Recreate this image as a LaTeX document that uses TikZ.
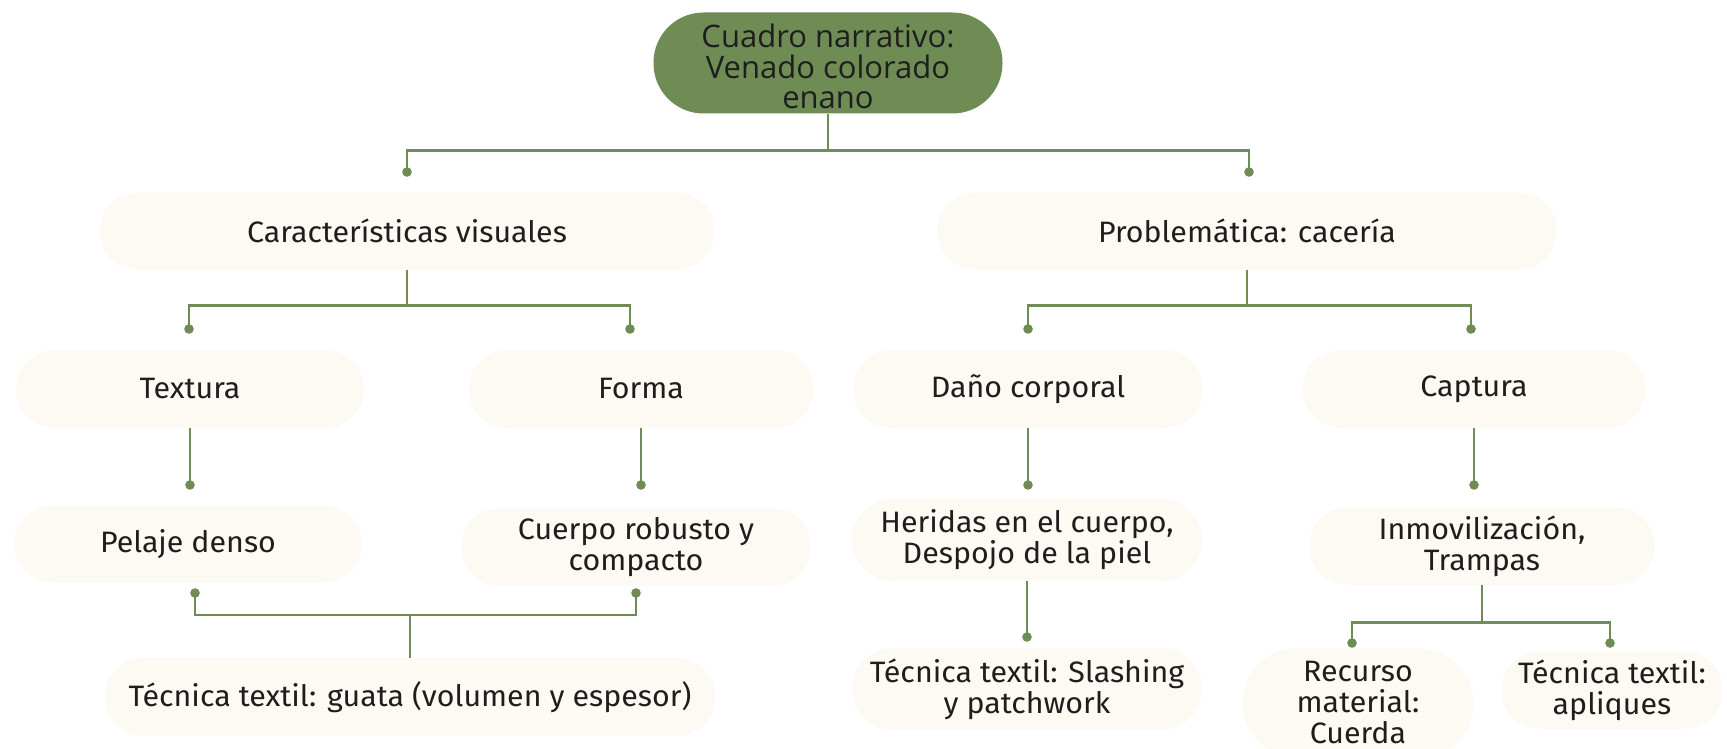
\documentclass[tikz,border=0pt]{standalone}
\usepackage{fontspec}
\setmainfont{Open Sans}
\newfontfamily\lowfont[FakeStretch=1.03]{Fira Sans}
\definecolor{leaf}{HTML}{6F8C55}
\definecolor{cream}{HTML}{FDFAF4}
\definecolor{ink}{HTML}{1E1E1E}
\begin{document}
\begin{tikzpicture}[x=1pt,y=-1pt,
  pill/.style={rectangle, rounded corners=38pt, fill=cream, minimum height=77pt,
    align=center, text=ink, inner sep=0pt, font=\lowfont\fontsize{29.5}{31}\selectfont},
  headpill/.style={rectangle, rounded corners=50pt, fill=leaf, minimum width=349pt,
    minimum height=101pt, align=center, text=ink, inner sep=0pt,
    font=\fontsize{31}{30.5}\selectfont},
  conn/.style={draw=leaf, line width=2.8pt},
  dotmark/.style={fill=leaf}
]
\fill[white] (0,0) rectangle (1727,749);
\useasboundingbox (0,0) rectangle (1727,749);

% nodes
\node[headpill] (top) at (828,63) {\rule{0pt}{30.5pt}Cuadro narrativo:\\Venado colorado\\enano};
\node[pill, minimum width=615pt] (cv) at (407,231) {Características visuales};
\node[pill, minimum width=619pt] (pc) at (1247,231) {Problemática: cacería};
\node[pill, minimum width=348pt] (tex) at (190,389) {Textura};
\node[pill, minimum width=345pt] (for) at (641,389) {Forma};
\node[pill, minimum width=350pt] (dan) at (1028,389) {Daño corporal};
\node[pill, minimum width=343pt] (cap) at (1474,389) {Captura};
\node[pill, minimum width=348pt] (pel) at (188,544) {Pelaje denso};
\node[pill, minimum width=350pt] (cue) at (636,547) {Cuerpo robusto y\\compacto};
\node[pill, minimum width=350pt, minimum height=82pt, rounded corners=41pt] (her) at (1027,540) {Heridas en el cuerpo,\\Despojo de la piel};
\node[pill, minimum width=345pt] (inm) at (1482,546) {Inmovilización,\\Trampas};
\node[pill, minimum width=611pt, minimum height=78pt, rounded corners=39pt] (gua) at (410,697) {Técnica textil: guata (volumen y espesor)};
\node[pill, minimum width=350pt, minimum height=82pt, rounded corners=41pt] (sla) at (1027,689) {Técnica textil: Slashing\\y patchwork};
\node[pill, minimum width=231pt, minimum height=110pt, rounded corners=55pt] (rec) at (1358,703) {Recurso\\material:\\Cuerda};
\node[pill, minimum width=221pt] (apl) at (1612,690) {Técnica textil:\\apliques};

% dot end points
\coordinate (d-cv) at (407,172);
\coordinate (d-pc) at (1249,172);
\coordinate (d-tex) at (189,329);
\coordinate (d-for) at (630,329);
\coordinate (d-dan) at (1028,329);
\coordinate (d-cap) at (1471,329);
\coordinate (d-pel) at (190,485);
\coordinate (d-cue) at (641,485);
\coordinate (d-her) at (1028,485);
\coordinate (d-inm) at (1474,485);
\coordinate (e-pel) at (195,593);
\coordinate (e-cue) at (636,593);
\coordinate (d-sla) at (1027,637);
\coordinate (d-rec) at (1352,643);
\coordinate (d-apl) at (1610,643);

% connectors
\draw[conn] (top.south) -- ++(0,37) coordinate (j0) -| (d-cv);
\draw[conn] (j0) -| (d-pc);
\draw[conn] (cv.south) -- ++(0,36) coordinate (j1) -| (d-tex);
\draw[conn] (j1) -| (d-for);
\draw[conn] (pc.south) -- ++(0,36) coordinate (j2) -| (d-dan);
\draw[conn] (j2) -| (d-cap);
\draw[conn] (tex.south) -- (tex.south |- d-pel);
\draw[conn] (for.south) -- (for.south |- d-cue);
\draw[conn] (dan.south) -- (dan.south |- d-her);
\draw[conn] (cap.south) -- (cap.south |- d-inm);
\draw[conn] (e-pel) -- ++(0,22) coordinate (j3) -| (e-cue);
\draw[conn] (gua.north) -- (gua.north |- j3);
\draw[conn] (her.south) -- (d-sla);
\draw[conn] (inm.south) -- ++(0,38) coordinate (j4) -| (d-rec);
\draw[conn] (j4) -| (d-apl);

% dots
\foreach \p in {d-cv,d-pc,d-tex,d-for,d-dan,d-cap,e-pel,e-cue,d-sla,d-rec,d-apl}
  \fill[dotmark] (\p) circle (4.8pt);
\fill[dotmark] (tex.south |- d-pel) circle (4.8pt);
\fill[dotmark] (for.south |- d-cue) circle (4.8pt);
\fill[dotmark] (dan.south |- d-her) circle (4.8pt);
\fill[dotmark] (cap.south |- d-inm) circle (4.8pt);
\end{tikzpicture}
\end{document}
